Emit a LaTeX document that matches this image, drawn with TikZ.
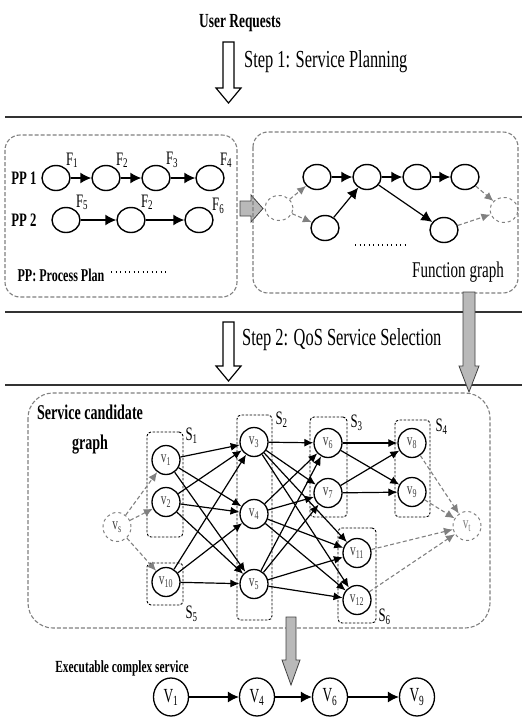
\documentclass[tikz,border=0pt]{standalone}
\usepackage{xcolor}
\usepackage{fontspec}
\setmainfont{Liberation Serif}[FakeStretch=0.67]
\usepackage{tikz}
\usetikzlibrary{calc,arrows.meta,shapes.geometric,fit}

\begin{document}
\begin{tikzpicture}[x=1pt,y=-1pt]
\tikzset{fn/.style={ellipse, draw, line width=1.4pt, minimum width=28pt, minimum height=25pt, inner sep=0pt},
  fnd/.style={fn, draw=gray, dashed, line width=1pt},
  sv/.style={ellipse, draw, line width=1.3pt, minimum width=28pt, minimum height=29pt, inner sep=0pt, text=black!75, font=\fontsize{17}{17}\selectfont},
  svd/.style={sv, draw=gray, dashed, line width=1pt},
  ex/.style={ellipse, draw, line width=1.3pt, minimum width=35pt, minimum height=38pt, inner sep=0pt, font=\fontsize{20}{20}\selectfont},
  ar/.style={-{Latex[length=11pt,width=11pt]}, line width=1.4pt},
  arv/.style={-{Latex[length=9pt,width=8pt]}, line width=1.2pt},
  ard/.style={-{Latex[length=9pt,width=8pt]}, draw=gray, dash pattern=on 4pt off 2.5pt, line width=1.1pt},
  grp/.style={draw=gray, dash pattern=on 4pt off 2pt, line width=1.1pt},
  sbox/.style={draw, dash pattern=on 2.5pt off 1.5pt, line width=0.9pt, rounded corners=4pt, inner sep=0pt},
  rule/.style={draw=black!80, line width=2.5pt},
  hollow/.style={draw, fill=white, line width=1.2pt},
  thick arrow/.style={draw=black!75, fill=gray!55, line width=0.8pt},
  flbl/.style={font=\fontsize{19}{19}\selectfont, inner sep=0pt},
  slbl/.style={font=\fontsize{19}{19}\selectfont, inner sep=0pt},
  steptxt/.style={anchor=west, inner sep=0pt, font=\fontsize{24.5}{24.5}\selectfont},
  hd/.style={inner sep=0pt, font=\bfseries\fontsize{#1}{#1}\selectfont}}
\useasboundingbox (0,0) rectangle (522,726);

% step 1
\node[hd=20] (req) at (240,23) {User Requests};
\draw[hollow] (223,42) -- (234,42) -- (234,88) -- (241,88) -- (228.5,103) -- (216,88) -- (223,88) -- cycle;
\node[steptxt] (step1) at (244,62) {Step 1: Service Planning};
\draw[rule] (5,117) -- (522,117);

% process plans
\draw[grp, rounded corners=15pt] (5,135) rectangle (237,297);
\node[hd=19] (pp1) at (24,178) {PP 1};
\node[hd=19] (pp2) at (24,220) {PP 2};
\node[fn, label={[flbl]45:F\textsubscript{1}}] (p11) at (56,178) {};
\node[fn, label={[flbl]45:F\textsubscript{2}}] (p12) at (106,178) {};
\node[fn, label={[flbl]45:F\textsubscript{3}}] (p13) at (156,178) {};
\node[fn, label={[flbl]45:F\textsubscript{4}}] (p14) at (210,178) {};
\node[fn, label={[flbl]45:F\textsubscript{5}}] (p21) at (66,220) {};
\node[fn, label={[flbl]45:F\textsubscript{2}}] (p22) at (131,220) {};
\node[fn, label={[flbl]25:F\textsubscript{6}}] (p23) at (199,220) {};
\draw[ar] (p11) -- (p12);
\draw[ar] (p12) -- (p13);
\draw[ar] (p13) -- (p14);
\draw[ar] (p21) -- (p22);
\draw[ar] (p22) -- (p23);
\node[hd=18] (pplan) at (61,275) {PP: Process Plan};
\draw[line width=1.3pt, dash pattern=on 1.2pt off 3.3pt] (111,272) -- (166,272);

\draw[thick arrow] (240,201) -- (251,201) -- (251,195) -- (263,208.5) -- (251,222) -- (251,216) -- (240,216) -- cycle;

% function graph
\draw[grp, rounded corners=15pt] (253,132) rectangle (518,293);
\node[fnd] (fin) at (279,208) {};
\node[fn] (fa) at (317,177) {};
\node[fn] (fb) at (367,177) {};
\node[fn] (fc) at (417,177) {};
\node[fn] (fd) at (465,177) {};
\node[fn] (fe) at (325,228) {};
\node[fn] (ff) at (444,230) {};
\node[fnd] (fout) at (504,210) {};
\draw[ar] (fa) -- (fb);
\draw[ar] (fb) -- (fc);
\draw[ar] (fc) -- (fd);
\draw[ar, line width=1.2pt] (fe) -- (fb);
\draw[ar, line width=1.2pt] (fb) -- (ff);
\draw[ard] (fin) -- (fa);
\draw[ard] (fin) -- (fe);
\draw[ard] (fd) -- (fout);
\draw[ard] (ff) -- (fout);
\draw[line width=1.3pt, dash pattern=on 1.2pt off 3.3pt] (355,245) -- (408,245);
\node[inner sep=0pt, font=\fontsize{22.5}{22.5}\selectfont] (fgraph) at (458,272) {Function graph};

% step 2
\draw[rule] (5,312) -- (522,312);
\draw[hollow] (223,322) -- (234,322) -- (234,366) -- (241,366) -- (228.5,381) -- (216,366) -- (223,366) -- cycle;
\node[steptxt] (step2) at (242,340) {Step 2: QoS Service Selection};
\draw[rule] (5,385) -- (522,385);
\draw[thick arrow] (463,292) -- (475,292) -- (475,366) -- (479,366) -- (469,392) -- (459,366) -- (463,366) -- cycle;

% service candidate graph
\draw[grp, rounded corners=25pt] (28,393) rectangle (490,628);
\node[align=center, inner sep=0pt, font=\bfseries\fontsize{21}{30}\selectfont] (scg) at (90,430) {Service candidate\\graph};

\node[fit={(147,432) (183,537)}, sbox] (S1) {};
\node[fit={(147,563) (183,605)}, sbox] (S5) {};
\node[fit={(237,415) (272,620)}, sbox] (S2) {};
\node[fit={(310,417) (347,517)}, sbox] (S3) {};
\node[fit={(395,420) (430,517)}, sbox] (S4) {};
\node[fit={(338,528) (376,623)}, sbox] (S6) {};
\node[slbl, anchor=west] at ($(S1.north east)+(2,4)$) {S\textsubscript{1}};
\node[slbl, anchor=west] at ($(S2.north east)+(3,5)$) {S\textsubscript{2}};
\node[slbl, anchor=west] at ($(S3.north east)+(3,6)$) {S\textsubscript{3}};
\node[slbl, anchor=west] at ($(S4.north east)+(5,7)$) {S\textsubscript{4}};
\node[slbl, anchor=west] at ($(S5.south east)+(2,8)$) {S\textsubscript{5}};
\node[slbl, anchor=west] at ($(S6.south east)+(2,-7)$) {S\textsubscript{6}};

\node[svd] (vs) at (117,527) {v\textsubscript{s}};
\node[sv] (v1) at (166,460) {v\textsubscript{1}};
\node[sv] (v2) at (166,502) {v\textsubscript{2}};
\node[sv] (v10) at (166,582) {v\textsubscript{10}};
\node[sv] (v3) at (254,442) {v\textsubscript{3}};
\node[sv] (v4) at (254,514) {v\textsubscript{4}};
\node[sv] (v5) at (254,584) {v\textsubscript{5}};
\node[sv] (v6) at (328,443) {v\textsubscript{6}};
\node[sv] (v7) at (328,493) {v\textsubscript{7}};
\node[sv] (v11) at (357,553) {v\textsubscript{11}};
\node[sv] (v12) at (357,600) {v\textsubscript{12}};
\node[sv] (v8) at (412,443) {v\textsubscript{8}};
\node[sv] (v9) at (412,492) {v\textsubscript{9}};
\node[svd, text=gray] (vt) at (467,526) {v\textsubscript{t}};

\foreach \a in {v1,v2,v10}
  \foreach \b in {v3,v4,v5}
    \draw[arv] (\a) -- (\b);
\foreach \a in {v3,v4,v5}
  \foreach \b in {v6,v7,v11,v12}
    \draw[arv] (\a) -- (\b);
\foreach \a in {v6,v7}
  \foreach \b in {v8,v9}
    \draw[arv] (\a) -- (\b);
\foreach \b in {v1,v2,v10}
  \draw[ard] (vs) -- (\b);
\foreach \a in {v8,v9,v11,v12}
  \draw[ard] (\a) -- (vt);

% selected composition
\draw[thick arrow] (286,617) -- (296,617) -- (296,660) -- (300,660) -- (291,685) -- (282,660) -- (286,660) -- cycle;
\node[hd=17] (exec) at (122,668) {Executable complex service};
\node[ex] (e1) at (171,697) {V\textsubscript{1}};
\node[ex] (e4) at (257,697) {V\textsubscript{4}};
\node[ex] (e6) at (330,697) {V\textsubscript{6}};
\node[ex] (e9) at (417,697) {V\textsubscript{9}};
\draw[ar, line width=1.2pt] (e1) -- (e4);
\draw[ar, line width=1.2pt] (e4) -- (e6);
\draw[ar, line width=1.2pt] (e6) -- (e9);
\end{tikzpicture}
\end{document}
